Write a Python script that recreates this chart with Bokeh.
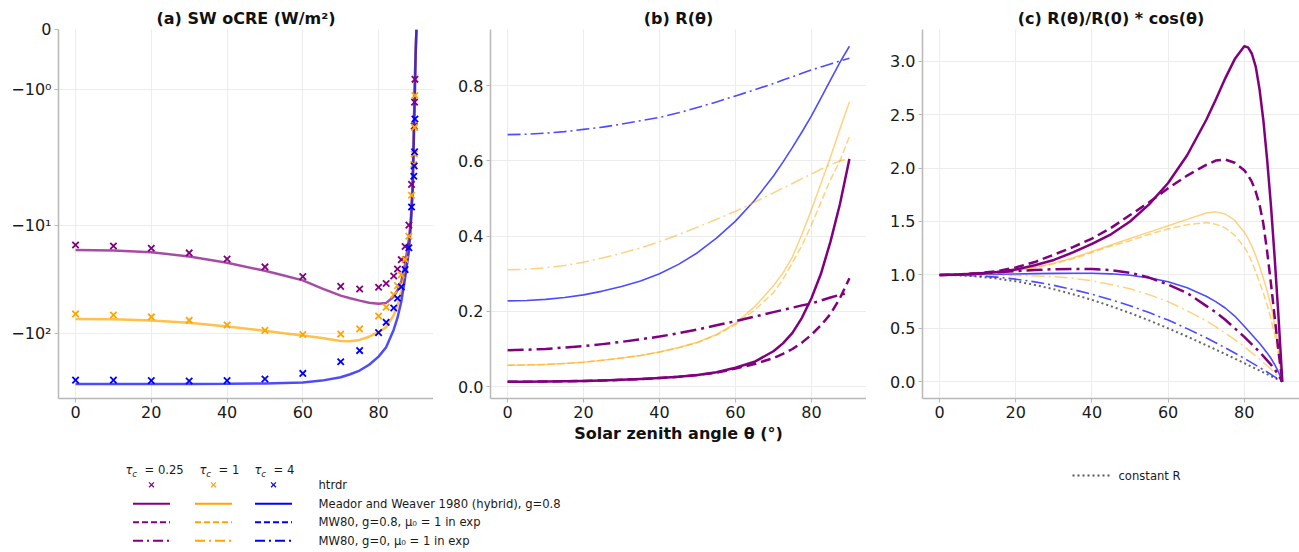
import numpy as np
from bokeh.plotting import figure
from bokeh.layouts import column, row
from bokeh.models import Range1d, FixedTicker, PrintfTickFormatter
from bokeh.embed import file_html
from bokeh.resources import INLINE
from bokeh.core.properties import value

FONT = "DejaVu Sans"
PURPLE, ORANGE, BLUE, GREY = "#800080", "#FFA500", "#0000FF", "#555555"

# ---------------- (a) SW oCRE (W/m²) ----------------
# htrdr reference points for each cloud optical depth
theta_htrdr_025 = [0, 10, 20, 30, 40, 50, 60, 70, 75, 80, 82, 84, 85, 86, 87, 88, 88.7, 89.4, 89.5, 89.6]
htrdr_025 = [-15.3, -15.6, -16.4, -18.1, -20.6, -24.4, -30.0, -36.9, -39.0, -37.6, -34.7, -29.6,
             -25.5, -20.9, -15.8, -10.0, -4.2, -1.61, -1.21, -0.83]
theta_htrdr_1 = [0, 10, 20, 30, 40, 50, 60, 70, 75, 80, 82, 84, 85, 86, 87, 88, 88.7, 89.3, 89.4, 89.5, 89.6]
htrdr_1 = [-66.4, -68.0, -70.8, -76.1, -84.0, -94.2, -103, -102, -91.4, -69.5, -57.5, -44.2,
           -36.3, -28.8, -20.8, -12.7, -5.3, -2.75, -2.2, -1.63, -1.1]
theta_htrdr_4 = [0, 10, 20, 30, 40, 50, 60, 70, 75, 80, 82, 84, 85, 86, 87, 88, 88.7, 89.3, 89.4, 89.5, 89.6]
htrdr_4 = [-272, -272, -275, -277, -275, -266, -236, -184, -145, -99, -79.4, -58.5,
           -47.5, -37.3, -25.8, -16.2, -6.8, -3.53, -2.84, -2.1, -1.49]

# Meador & Weaver (hybrid), g=0.8
theta_mw_a = [0, 10, 20, 30, 40, 50, 55, 60, 65, 70, 72.5, 75, 77.5, 80, 82, 84, 85, 86, 87, 88,
              88.5, 89, 89.5, 89.8, 90]
mw_a_025 = [-17.0, -17.2, -17.8, -19.5, -22.3, -26.5, -29.3, -32.5, -38.5, -45, -47.5, -50, -52.3,
            -53.5, -52.5, -46, -40, -33, -23, -13.5, -9, -4, -1.0, -0.3, 0]
mw_a_1 = [-74, -74.5, -76.5, -80, -87, -95, -100, -105, -111, -118, -119, -115.5, -108, -98, -88,
          -68, -55, -41, -28, -16.5, -10, -4.8, -1.3, -0.4, 0]
mw_a_4 = [-296, -296, -296, -295, -294, -292, -289, -286, -275, -256, -240, -222, -196, -165, -135,
          -93, -72, -51, -31, -17.5, -10, -4.8, -1.3, -0.4, 0]

# ---------------- (b) R(theta) ----------------
theta_b = [0, 5, 10, 15, 20, 25, 30, 35, 40, 45, 50, 55, 60, 65, 70, 72.5, 75, 77.5, 80, 82.5, 85, 87.5, 90]
R_hyb_025 = [0.013, 0.0131, 0.0135, 0.014, 0.015, 0.0163, 0.018, 0.020, 0.023, 0.026, 0.031, 0.038,
             0.050, 0.066, 0.094, 0.115, 0.143, 0.183, 0.235, 0.30, 0.385, 0.485, 0.605]
R_g08_025 = [0.013, 0.0131, 0.0135, 0.014, 0.015, 0.0163, 0.018, 0.020, 0.023, 0.026, 0.031, 0.037,
             0.048, 0.060, 0.076, 0.087, 0.100, 0.117, 0.138, 0.163, 0.193, 0.235, 0.288]
R_g0_025 = [0.097, 0.098, 0.100, 0.104, 0.108, 0.113, 0.119, 0.126, 0.133, 0.142, 0.152, 0.163,
            0.174, 0.186, 0.198, 0.204, 0.210, 0.216, 0.221, 0.229, 0.237, 0.244, 0.250]
R_hyb_1 = [0.057, 0.0575, 0.059, 0.0615, 0.065, 0.070, 0.076, 0.083, 0.092, 0.104, 0.118, 0.139,
           0.168, 0.212, 0.268, 0.302, 0.345, 0.405, 0.47, 0.54, 0.61, 0.685, 0.757]
R_g08_1 = [0.057, 0.0575, 0.059, 0.0615, 0.065, 0.070, 0.076, 0.083, 0.092, 0.103, 0.117, 0.137,
           0.165, 0.203, 0.25, 0.285, 0.33, 0.375, 0.43, 0.49, 0.55, 0.60, 0.665]
R_g0_1 = [0.311, 0.312, 0.316, 0.322, 0.331, 0.342, 0.355, 0.369, 0.385, 0.404, 0.424, 0.445,
          0.466, 0.490, 0.515, 0.528, 0.540, 0.553, 0.565, 0.578, 0.590, 0.600, 0.608]
R_hyb_4 = [0.228, 0.229, 0.232, 0.237, 0.244, 0.254, 0.266, 0.281, 0.300, 0.325, 0.356, 0.395,
           0.44, 0.495, 0.56, 0.597, 0.636, 0.677, 0.72, 0.767, 0.815, 0.862, 0.905]
R_g0_4 = [0.670, 0.671, 0.674, 0.678, 0.684, 0.690, 0.698, 0.707, 0.716, 0.728, 0.742, 0.757,
          0.773, 0.789, 0.806, 0.815, 0.824, 0.833, 0.842, 0.850, 0.858, 0.866, 0.873]

# ---------------- (c) R(theta)/R(0) * cos(theta) ----------------
theta_c = [0, 5, 10, 15, 20, 25, 30, 35, 40, 45, 50, 55, 60, 65, 70, 72.5, 75, 77.5, 80,
           81, 82, 83, 84, 85, 86, 87, 88, 89, 90]
C_hyb_025 = [1.0, 1.003, 1.012, 1.027, 1.05, 1.09, 1.14, 1.21, 1.29, 1.38, 1.50, 1.66, 1.86, 2.12,
             2.45, 2.64, 2.84, 3.02, 3.14, 3.13, 3.07, 2.95, 2.74, 2.45, 2.08, 1.65, 1.15, 0.60, 0.0]
C_g08_025 = [1.0, 1.004, 1.015, 1.035, 1.07, 1.12, 1.19, 1.26, 1.34, 1.44, 1.56, 1.68, 1.81, 1.93,
             2.03, 2.07, 2.08, 2.05, 1.98, 1.93, 1.87, 1.78, 1.66, 1.48, 1.22, 0.92, 0.60, 0.28, 0.0]
C_g0_025 = [1.0, 1.003, 1.012, 1.024, 1.036, 1.046, 1.053, 1.056, 1.055, 1.045, 1.02, 0.975, 0.91,
            0.83, 0.71, 0.65, 0.58, 0.50, 0.42, 0.385, 0.35, 0.315, 0.28, 0.24, 0.20, 0.16, 0.115,
            0.06, 0.0]
C_hyb_1 = [1.0, 1.003, 1.01, 1.022, 1.04, 1.07, 1.11, 1.16, 1.22, 1.28, 1.34, 1.40, 1.46, 1.52,
           1.58, 1.59, 1.57, 1.51, 1.40, 1.34, 1.27, 1.18, 1.08, 0.97, 0.85, 0.71, 0.53, 0.30, 0.0]
C_g08_1 = [1.0, 1.003, 1.01, 1.022, 1.04, 1.07, 1.105, 1.15, 1.21, 1.27, 1.32, 1.38, 1.43, 1.47,
           1.49, 1.475, 1.44, 1.37, 1.26, 1.20, 1.12, 1.03, 0.93, 0.83, 0.72, 0.59, 0.44, 0.25, 0.0]
C_g0_1 = [1.0, 1.0, 0.999, 0.997, 0.994, 0.99, 0.983, 0.968, 0.945, 0.91, 0.87, 0.815, 0.75, 0.665,
          0.57, 0.515, 0.455, 0.395, 0.33, 0.30, 0.27, 0.24, 0.21, 0.18, 0.15, 0.12, 0.08, 0.04, 0.0]
C_hyb_4 = [1.0, 1.001, 1.003, 1.006, 1.009, 1.012, 1.014, 1.015, 1.015, 1.01, 0.997, 0.972, 0.935,
           0.88, 0.80, 0.75, 0.69, 0.615, 0.52, 0.48, 0.44, 0.40, 0.36, 0.315, 0.27, 0.22, 0.16,
           0.09, 0.0]
C_g0_4 = [1.0, 0.998, 0.991, 0.979, 0.96, 0.935, 0.902, 0.863, 0.819, 0.768, 0.712, 0.647, 0.577,
          0.497, 0.411, 0.365, 0.318, 0.269, 0.218, 0.197, 0.176, 0.155, 0.134, 0.112, 0.091,
          0.069, 0.046, 0.023, 0.0]
theta_const = [0, 5, 10, 15, 20, 25, 30, 35, 40, 45, 50, 55, 60, 65, 70, 75, 80, 85, 90]
C_const = [1.0, 0.996, 0.985, 0.966, 0.940, 0.906, 0.866, 0.819, 0.766, 0.707, 0.643, 0.574,
           0.500, 0.423, 0.342, 0.259, 0.174, 0.087, 0.0]

# symmetric-log axis transform (linthresh=2, linscale=1, base 10)
LINTHRESH = 2.0
LINSCALE_ADJ = 1.0 / (1.0 - 1.0 / 10.0)


def symlog(v):
    v = np.asarray(v, dtype=float)
    a = np.abs(v)
    lin = a * LINSCALE_ADJ
    log = LINTHRESH * (LINSCALE_ADJ + np.log10(np.maximum(a, LINTHRESH) / LINTHRESH))
    return np.sign(v) * np.where(a <= LINTHRESH, lin, log)


def style_fig(p):
    p.outline_line_color = None
    p.title.align = "center"
    p.title.text_font = FONT
    p.title.text_font_size = "16px"
    p.title.text_font_style = "bold"
    p.title.text_color = "#111111"
    p.title.standoff = 4
    for ax in p.axis:
        ax.axis_line_color = "#b8b8b8"
        ax.axis_line_width = 1.5
        ax.major_tick_line_color = "#b8b8b8"
        ax.major_tick_out = 4
        ax.major_tick_in = 0
        ax.minor_tick_line_color = None
        ax.major_label_text_font = FONT
        ax.major_label_text_font_size = "16px"
        ax.major_label_text_color = "#1a1a1a"
        ax.major_label_standoff = 3
    p.grid.grid_line_color = "#ececec"
    p.grid.grid_line_width = 1
    p.xaxis.ticker = FixedTicker(ticks=[0, 20, 40, 60, 80])


def make_fig(title, yr, left):
    p = figure(width=433, height=445, x_range=Range1d(-4.5, 94.5), y_range=yr,
               title=title, output_backend="svg", toolbar_location=None,
               min_border_left=left, min_border_right=0, min_border_top=29,
               min_border_bottom=47)
    style_fig(p)
    return p


# ---- panel (a) ----
pa = make_fig("(a) SW oCRE (W/m²)", Range1d(-6.83, 0), 58)
ya_ticks = [float(symlog(-100)), float(symlog(-10)), float(symlog(-1)), 0.0]
pa.yaxis.ticker = FixedTicker(ticks=ya_ticks)
pa.yaxis.major_label_overrides = {ya_ticks[0]: "−10²", ya_ticks[1]: "−10¹",
                                  ya_ticks[2]: "−10⁰", ya_ticks[3]: "0"}
for vals, col in ((mw_a_025, PURPLE), (mw_a_1, ORANGE), (mw_a_4, BLUE)):
    pa.line(theta_mw_a, symlog(vals), line_color=col, line_alpha=0.7, line_width=2.5)
for th, vals, col in ((theta_htrdr_025, htrdr_025, PURPLE), (theta_htrdr_1, htrdr_1, ORANGE),
                      (theta_htrdr_4, htrdr_4, BLUE)):
    pa.scatter(th, symlog(vals), marker="x", size=9, line_color=col, line_width=1.8)

# line styles per optical depth
W = {PURPLE: 2.5, ORANGE: 1.5, BLUE: 1.6}
A = {PURPLE: 1.0, ORANGE: 0.5, BLUE: 0.7}
DASH = {PURPLE: "10 5", ORANGE: "7 3", BLUE: "7 3"}
DASHDOT = {PURPLE: "16 5 3 5", ORANGE: "13 4 2 4", BLUE: "13 4 2 4"}


def draw(p, th, vals, col, kind):
    dash = {"solid": "solid", "dashed": DASH[col], "dashdot": DASHDOT[col]}[kind]
    p.line(th, vals, line_color=col, line_alpha=A[col], line_width=W[col], line_dash=dash,
           line_join="round")


# ---- panel (b) ----
pb = make_fig("(b) R(θ)", Range1d(-0.0316, 0.9496), 57)
pb.yaxis.ticker = FixedTicker(ticks=[0.0, 0.2, 0.4, 0.6, 0.8])
pb.yaxis.formatter = PrintfTickFormatter(format="%.1f")
pb.xaxis.axis_label = "Solar zenith angle θ (°)"
pb.xaxis.axis_label_text_font = FONT
pb.xaxis.axis_label_text_font_size = "16px"
pb.xaxis.axis_label_text_font_style = "bold"
pb.xaxis.axis_label_text_color = "#111111"
pb.xaxis.axis_label_standoff = 3
for vals, col, kind in ((R_g0_4, BLUE, "dashdot"), (R_hyb_4, BLUE, "solid"),
                        (R_g0_1, ORANGE, "dashdot"), (R_g08_1, ORANGE, "dashed"),
                        (R_hyb_1, ORANGE, "solid"), (R_g0_025, PURPLE, "dashdot"),
                        (R_g08_025, PURPLE, "dashed"), (R_hyb_025, PURPLE, "solid")):
    draw(pb, theta_b, vals, col, kind)

# ---- panel (c) ----
pc = make_fig("(c) R(θ)/R(0) * cos(θ)", Range1d(-0.157, 3.297), 56)
pc.yaxis.ticker = FixedTicker(ticks=[0.0, 0.5, 1.0, 1.5, 2.0, 2.5, 3.0])
pc.yaxis.formatter = PrintfTickFormatter(format="%.1f")
pc.line(theta_const, C_const, line_color=GREY, line_width=2, line_dash="2 3", line_alpha=0.9)
for vals, col, kind in ((C_g0_4, BLUE, "dashdot"), (C_hyb_4, BLUE, "solid"),
                        (C_g0_1, ORANGE, "dashdot"), (C_g08_1, ORANGE, "dashed"),
                        (C_hyb_1, ORANGE, "solid"), (C_g0_025, PURPLE, "dashdot"),
                        (C_g08_025, PURPLE, "dashed"), (C_hyb_025, PURPLE, "solid")):
    draw(pc, theta_c, vals, col, kind)

# ---- legend strip (screen-pixel coordinates) ----
leg = figure(width=1299, height=107, x_range=Range1d(0, 1299), y_range=Range1d(107, 0),
             output_backend="svg", toolbar_location=None, x_axis_location=None,
             y_axis_location=None, min_border=0)
leg.outline_line_color = None
leg.grid.visible = False

col_x = [151, 213, 273]
head_x = [125, 199, 254]
tau_labels = ["0.25", "1", "4"]
row_y = [39.3, 58.3, 76.7, 95.3]
header_y = 24
LFS = "11.6px"
TXT = dict(text_font=value(FONT), text_color="#1a1a1a", text_baseline="middle")
for cx, x0, lab, col in zip(col_x, head_x, tau_labels, (PURPLE, ORANGE, BLUE)):
    leg.text([x0], [header_y], text=["τ"], text_font_size=LFS, text_font_style="italic",
             text_align="left", **TXT)
    leg.text([x0 + 6.7], [header_y + 4], text=["c"], text_font_size="8.5px",
             text_font_style="italic", text_align="left", **TXT)
    leg.text([x0 + 19], [header_y], text=["= " + lab], text_font_size=LFS, text_align="left", **TXT)
    leg.scatter([cx], [row_y[0]], marker="x", size=7, line_color=col, line_width=1.2)
    for ry, dash in zip(row_y[1:], ("solid", "6 3", "10 4 2 4")):
        leg.line([cx - 18.5, cx + 18.5], [ry, ry], line_color=col, line_width=2, line_dash=dash)

legend_text = ["htrdr", "Meador and Weaver 1980 (hybrid), g=0.8",
               "MW80, g=0.8, μ₀ = 1 in exp", "MW80, g=0, μ₀ = 1 in exp"]
leg.text([318] * 4, row_y, text=legend_text, text_font_size=LFS, text_align="left", **TXT)

leg.line([1072, 1109], [30, 30], line_color=GREY, line_width=2, line_dash="2 3")
leg.text([1118], [30], text=["constant R"], text_font_size=LFS, text_align="left", **TXT)

layout = column(row(pa, pb, pc), leg)
open("out.html", "w").write(file_html(layout, INLINE))
